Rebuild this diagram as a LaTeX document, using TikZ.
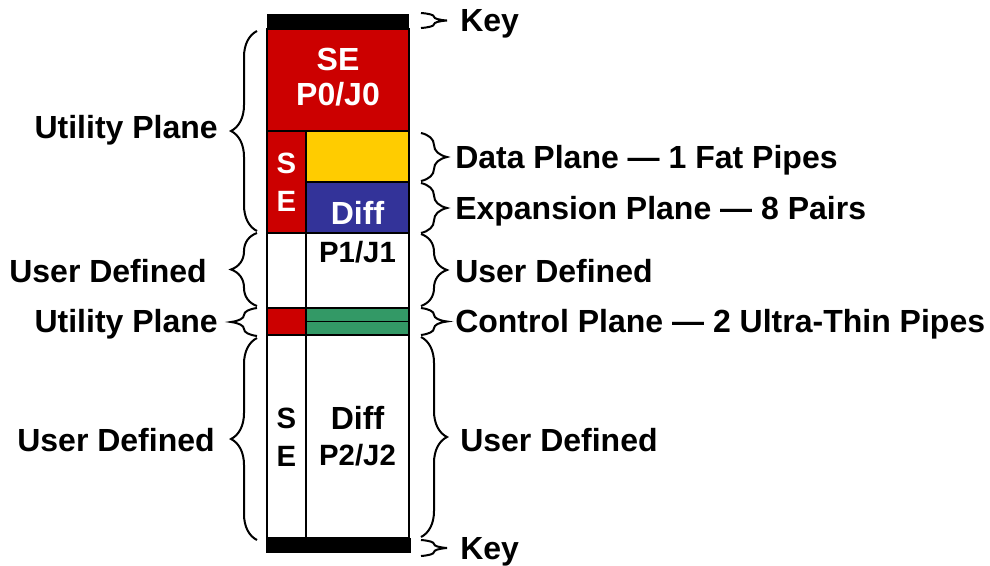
\documentclass[tikz,border=0pt]{standalone}
\usepackage{fontspec}
\setmainfont{Liberation Sans}
\usetikzlibrary{decorations.pathreplacing}
\definecolor{sered}{HTML}{CC0000}
\definecolor{datayel}{HTML}{FFCC00}
\definecolor{expblue}{HTML}{333399}
\definecolor{ctrlgreen}{HTML}{339966}
\tikzset{
  x=0.75pt, y=-0.75pt,
  cell/.style={draw=black, line width=1.5pt},
  lbl/.style={font=\fontsize{24}{28}\selectfont\bfseries, inner sep=0pt, anchor=base},
  slbl/.style={lbl, font=\fontsize{22}{26}\selectfont\bfseries},
  rlbl/.style={lbl, anchor=base west},
  llbl/.style={lbl, anchor=base east},
  wtxt/.style={lbl, text=white},
  brc/.style={decorate, decoration={brace, amplitude=19.5pt}, line width=1.5pt},
}
\begin{document}
\begin{tikzpicture}
\useasboundingbox (0,0) rectangle (990,565);
% column cells
\fill[black] (267,14) rectangle (409,29);
\draw[cell, fill=sered] (267,29) rectangle (409,131);
\draw[cell, fill=sered] (267,131) rectangle (306,233);
\draw[cell, fill=datayel] (306,131) rectangle (409,182);
\draw[cell, fill=expblue] (306,182) rectangle (409,233);
\draw[cell, fill=white] (267,233) rectangle (306,308);
\draw[cell, fill=white] (306,233) rectangle (409,308);
\draw[cell, fill=sered] (267,308) rectangle (306,335);
\draw[cell, fill=ctrlgreen] (306,308) rectangle (409,335);
\draw[black, line width=0.75pt] (306,321) -- (409,321);
\draw[cell, fill=white] (267,335) rectangle (306,538);
\draw[cell, fill=white] (306,335) rectangle (409,538);
\fill[black] (265.5,538) rectangle (410.5,553);
% cell texts
\node[wtxt] (se0) at (338,70) {SE};
\node[wtxt] (p0) at (338,105) {P0/J0};
\node[wtxt, slbl, text=white] (s1) at (286.5,173) {S};
\node[wtxt, slbl, text=white] (e1) at (286.5,211) {E};
\node[wtxt] (diff1) at (357.5,224) {Diff};
\node[slbl] (p1) at (357.5,262) {P1/J1};
\node[slbl] (s2) at (286.5,428) {S};
\node[slbl] (e2) at (286.5,466) {E};
\node[lbl] (diff2) at (357.5,429) {Diff};
\node[slbl] (p2) at (357.5,465) {P2/J2};
% left braces
\coordinate (la1) at (257,231); \coordinate (lb1) at (257,31);
\coordinate (la2) at (257,306); \coordinate (lb2) at (257,233);
\coordinate (la3) at (257,336); \coordinate (lb3) at (257,308);
\coordinate (la4) at (257,540); \coordinate (lb4) at (257,338);
\draw[brc] (la1) -- (lb1);
\draw[brc] (la2) -- (lb2);
\draw[brc] (la3) -- (lb3);
\draw[brc] (la4) -- (lb4);
% right braces
\coordinate (ra0) at (421,13);  \coordinate (rb0) at (421,28);
\coordinate (ra1) at (421,133); \coordinate (rb1) at (421,181);
\coordinate (ra2) at (421,183); \coordinate (rb2) at (421,233);
\coordinate (ra3) at (421,234); \coordinate (rb3) at (421,306);
\coordinate (ra4) at (421,308); \coordinate (rb4) at (421,335);
\coordinate (ra5) at (421,337); \coordinate (rb5) at (421,537);
\coordinate (ra6) at (421,540); \coordinate (rb6) at (421,556);
\draw[brc] (ra0) -- (rb0);
\draw[brc] (ra1) -- (rb1);
\draw[brc] (ra2) -- (rb2);
\draw[brc] (ra3) -- (rb3);
\draw[brc] (ra4) -- (rb4);
\draw[brc] (ra5) -- (rb5);
\draw[brc] (ra6) -- (rb6);
% left labels
\node[llbl] (lu1) at (218,138) {Utility Plane};
\node[llbl] (ld1) at (207,282) {User Defined};
\node[llbl] (lu2) at (218,332) {Utility Plane};
\node[llbl] (ld2) at (215,451) {User Defined};
% right labels
\node[rlbl] (k1) at (460,31) {Key};
\node[rlbl] (dp) at (455,168) {Data Plane — 1 Fat Pipes};
\node[rlbl] (ep) at (455,219) {Expansion Plane — 8 Pairs};
\node[rlbl] (ud1) at (455,282) {User Defined};
\node[rlbl] (cp) at (455,332) {Control Plane — 2 Ultra-Thin Pipes};
\node[rlbl] (ud2) at (460,451) {User Defined};
\node[rlbl] (k2) at (460,559) {Key};
\end{tikzpicture}
\end{document}
